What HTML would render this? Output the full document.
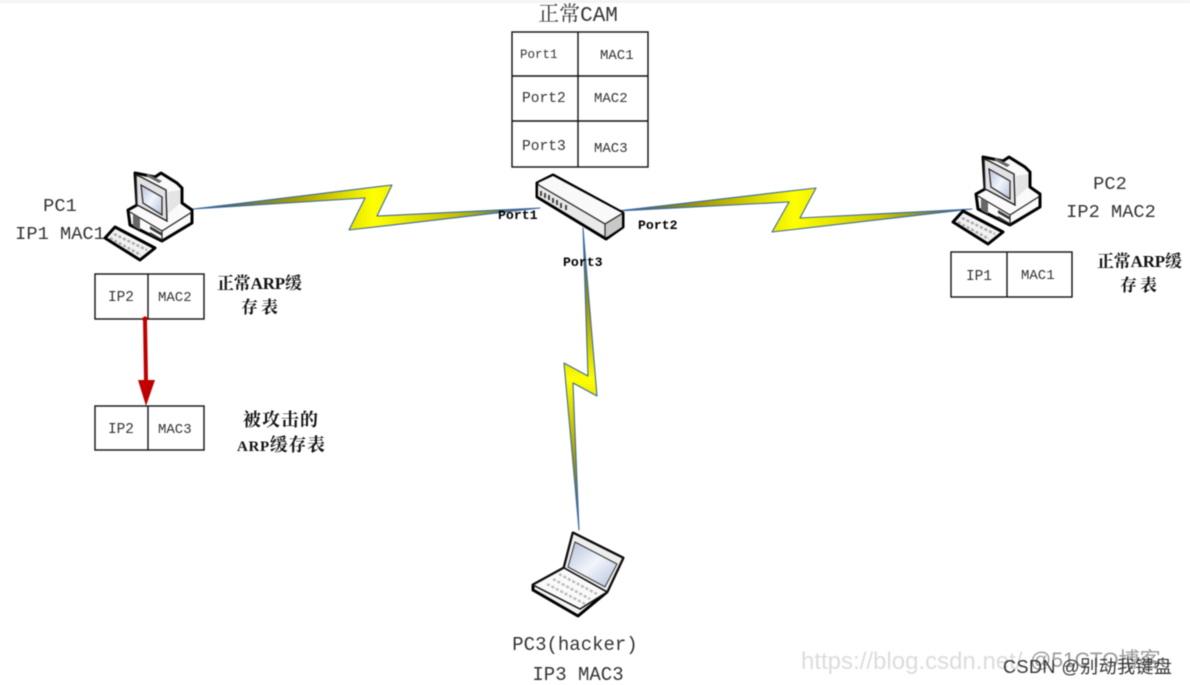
<!DOCTYPE html>
<html lang="zh">
<head>
<meta charset="utf-8">
<title>ARP diagram</title>
<style>
html,body{margin:0;padding:0;background:#fff;width:1190px;height:685px;overflow:hidden}
svg{display:block;filter:blur(.55px)}
.m{font-family:"Liberation Mono","Noto Serif CJK SC",monospace;fill:#333}
.b{font-family:"Liberation Mono",monospace;font-weight:bold;fill:#000;font-size:13.2px}
.c{font-family:"Liberation Serif","Noto Serif CJK SC",serif;font-weight:bold;fill:#111;font-size:17px}
.box{fill:#fff;stroke:#111;stroke-width:1.4}
.ln{stroke:#111;stroke-width:1.4}
.bolt{stroke:#3d6a9e;stroke-width:1.1;stroke-linejoin:round}
.o{stroke:#000;stroke-width:3;stroke-linejoin:round}
</style>
</head>
<body>
<svg width="1190" height="685" viewBox="0 0 1190 685" xmlns="http://www.w3.org/2000/svg">
<defs>
<linearGradient id="g1" gradientUnits="userSpaceOnUse" x1="193" y1="0" x2="540" y2="0">
<stop offset="0" stop-color="#2a4f7a"/><stop offset=".3" stop-color="#a8a000"/><stop offset=".52" stop-color="#ffff00"/><stop offset=".75" stop-color="#c8c400"/><stop offset="1" stop-color="#2a4f7a"/>
</linearGradient>
<linearGradient id="g2" gradientUnits="userSpaceOnUse" x1="617" y1="0" x2="972" y2="0">
<stop offset="0" stop-color="#2a4f7a"/><stop offset=".25" stop-color="#a8a000"/><stop offset=".5" stop-color="#ffff00"/><stop offset=".75" stop-color="#c8c400"/><stop offset="1" stop-color="#2a4f7a"/>
</linearGradient>
<linearGradient id="g3" gradientUnits="userSpaceOnUse" x1="0" y1="228" x2="0" y2="530">
<stop offset="0" stop-color="#2a4f7a"/><stop offset=".28" stop-color="#a8a000"/><stop offset=".5" stop-color="#ffff00"/><stop offset=".75" stop-color="#a8a000"/><stop offset="1" stop-color="#2a4f7a"/>
</linearGradient>
<linearGradient id="scr" x1="0" y1="0" x2="1" y2="1">
<stop offset="0" stop-color="#b4c0da"/><stop offset=".5" stop-color="#f2f5fb"/><stop offset="1" stop-color="#b4c0da"/>
</linearGradient>
<linearGradient id="sw" x1="0" y1="0" x2="1" y2="1">
<stop offset="0" stop-color="#fff"/><stop offset="1" stop-color="#c4c4c4"/>
</linearGradient>
<g id="pc">
<path class="o" fill="#fafafa" d="M128 210 137 205 135 173 155 177 161 173 177 183 182 188 182 203 192 210 192 223 162 241 130 225Z"/>
<path fill="none" stroke="#222" stroke-width="1.2" d="M130 212 162 231 192 212M162 231V241"/>
<path fill="#e2e2e2" stroke="#222" stroke-width="1.4" d="M136 175 141 177 166 190 167 221 141 207 137 205Z"/>
<path fill="url(#scr)" stroke="#222" stroke-width="1.2" d="M141 185 162 197 162 215 143 203Z"/>
<path fill="#666" d="M133 214 140 218 140 230 133 226ZM148 174l14 7-3 2-13-7z"/>
<path fill="#333" d="M150 226 162 233V236L150 229ZM150 232 162 239V240L150 235Z"/>
<path fill="#e4e4e4" d="M168 192 180 190V203L168 214Z"/>
<path class="o" fill="#f2f2f2" d="M105 238 115 227 155 248 140 260Z"/>
<path fill="none" stroke="#aaa" stroke-width="2.4" stroke-dasharray="3 2" d="M114 234 147 250M110 238 141 255"/>
</g>
</defs>
<rect width="1190" height="685" fill="#fff"/>
<rect width="1190" height="3" fill="#f4f4f4"/>

<!-- bolts -->
<polygon class="bolt" fill="url(#g1)" points="193,209 392,185 377,216 540,208 349,230 365,198"/>
<polygon class="bolt" fill="url(#g2)" points="617,211 816,188 800,218 972,209 772,232 789,202"/>
<polygon class="bolt" fill="url(#g3)" points="583,228 597,396 573,383 579,530 564,363 588,376"/>

<!-- CAM table -->
<rect class="box" x="512" y="32" width="136" height="135"/>
<path class="ln" d="M578 32V167M512 76H648M512 121H648"/>
<text class="m" x="578" y="21" font-size="21" text-anchor="middle">正常CAM</text>
<text class="m" x="520" y="58" font-size="12.5">Port1</text>
<text class="m" x="600" y="59" font-size="14">MAC1</text>
<text class="m" x="522" y="102" font-size="14.6">Port2</text>
<text class="m" x="594" y="102" font-size="14">MAC2</text>
<text class="m" x="522" y="150" font-size="14.6">Port3</text>
<text class="m" x="594" y="152" font-size="14">MAC3</text>

<!-- switch -->
<path class="o" fill="url(#sw)" d="M537 183 553 175 623 213 623 227 606 239 537 197Z"/>
<path fill="#f9f9f9" d="M538 183 553 176 622 213 605 223Z"/>
<path fill="#c8c8c8" d="M606 225 622 214 622 227 607 237Z"/>
<path fill="#e9e9e9" d="M538 185 605 225 606 237 538 196Z"/>
<path fill="none" stroke="#222" stroke-width="1.2" d="M537 184 605 224V238M605 224 623 213"/>
<path stroke="#444" stroke-width="2" d="M541 191v5M545 193v5M549 195v5M553 198v5M557 200v5M561 203v5M566 205v5"/>

<text class="b" x="498" y="219">Port1</text>
<text class="b" x="638" y="229">Port2</text>
<text class="b" x="563" y="266">Port3</text>

<!-- PC1 -->
<use href="#pc"/>
<text class="m" x="60" y="211" font-size="18.7" text-anchor="middle">PC1</text>
<text class="m" x="60" y="239" font-size="18.7" text-anchor="middle">IP1 MAC1</text>
<rect class="box" x="95" y="274" width="109" height="45"/>
<path class="ln" d="M148 274V319"/>
<text class="m" x="108" y="301" font-size="14.4">IP2</text>
<text class="m" x="158" y="301" font-size="14">MAC2</text>
<text class="c" x="217" y="289" textLength="85" lengthAdjust="spacing">正常ARP缓</text>
<text class="c" x="241" y="313" textLength="37" lengthAdjust="spacing">存表</text>

<!-- red arrow -->
<circle cx="145" cy="319" r="2.6" fill="#c00000"/>
<path d="M145 319 146 382" stroke="#c00000" stroke-width="4" fill="none"/>
<polygon points="138,380 155,380 146,406" fill="#c00000"/>

<rect class="box" x="95" y="406" width="109" height="44"/>
<path class="ln" d="M148 406V450"/>
<text class="m" x="108" y="433" font-size="14.4">IP2</text>
<text class="m" x="158" y="433" font-size="14">MAC3</text>
<text class="c" x="243" y="426" textLength="75" lengthAdjust="spacing" style="font-size:18px">被攻击的</text>
<text class="c" x="237" y="451" textLength="88" lengthAdjust="spacing" style="font-size:18px"><tspan style="font-size:15px">ARP</tspan>缓存表</text>

<!-- PC2 -->
<use href="#pc" transform="translate(848 -16)"/>
<text class="m" x="1110" y="189" font-size="18.7" text-anchor="middle">PC2</text>
<text class="m" x="1111" y="217" font-size="18.7" text-anchor="middle">IP2 MAC2</text>
<rect class="box" x="951" y="252" width="121" height="45"/>
<path class="ln" d="M1007 252V297"/>
<text class="m" x="966" y="280" font-size="14.4">IP1</text>
<text class="m" x="1021" y="279" font-size="14">MAC1</text>
<text class="c" x="1097" y="267" textLength="85" lengthAdjust="spacing">正常ARP缓</text>
<text class="c" x="1120" y="291" textLength="37" lengthAdjust="spacing">存表</text>

<!-- laptop -->
<path class="o" fill="#f4f4f4" stroke-width="3" d="M533 585 564 568 573 533 623 558 607 592 578 616 533 590Z"/>
<path fill="#eee" stroke="#111" stroke-width="1.6" d="M564 568 573 533 623 558 607 592Z"/>
<path fill="url(#scr)" stroke="#333" stroke-width="1" d="M575 542 617 564 605 587 568 567Z"/>
<path fill="#fafafa" stroke="#111" stroke-width="1.5" d="M533 585 564 568 607 592 580 609Z"/>
<path fill="none" stroke="#bbb" stroke-width="2.4" stroke-dasharray="3 2" d="M547 584 585 604M553 579 590 599M559 574 597 594"/>
<text class="m" x="575" y="650" font-size="19" text-anchor="middle">PC3(hacker)</text>
<text class="m" x="578" y="680" font-size="19" text-anchor="middle">IP3 MAC3</text>

<!-- watermarks -->
<text x="801" y="669" font-family="Liberation Sans, sans-serif" font-size="24" fill="#dcdcdc">https://blog.csdn.net/</text>
<text x="1030" y="667" font-family="Liberation Sans, Noto Sans CJK SC, sans-serif" font-size="21" fill="#999">@51CTO博客</text>
<text x="1003" y="673" font-family="Liberation Sans, Noto Sans CJK SC, sans-serif" font-size="18" fill="#333" textLength="169" lengthAdjust="spacing">CSDN @别动我键盘</text>
</svg>
</body>
</html>
